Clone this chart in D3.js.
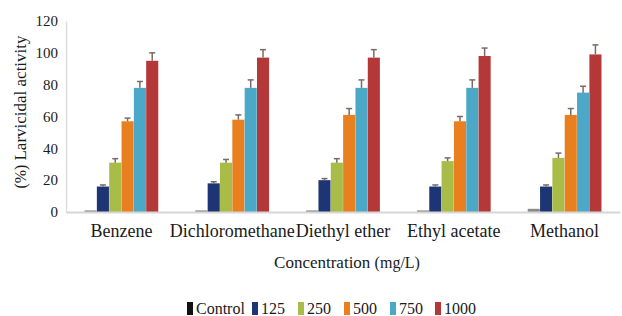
<!DOCTYPE html>
<html>
<head>
<meta charset="utf-8">
<script src="https://cdn.jsdelivr.net/npm/d3@7"></script>
<style>
  body { margin: 0; background: #fff; }
</style>
</head>
<body>
<svg id="chart" width="622" height="316"></svg>
<script>
  "use strict";
  // solvents on the x axis
  var solvents = ['Benzene', 'Dichloromethane', 'Diethyl ether', 'Ethyl acetate', 'Methanol'];
  // concentration series (mg/L)
  var doses = ['Control', '125', '250', '500', '750', '1000'];
  var doseColors = ['#8a8a8a', '#1d3574', '#a9bc47', '#e8801f', '#4ba8c6', '#b53838'];
  // mean larvicidal activity (%) for each solvent, one value per dose
  var activity = [
    [1, 16, 31, 57, 78, 95],
    [1, 18, 31, 58, 78, 97],
    [1, 20, 31, 61, 78, 97],
    [1, 16, 32, 57, 78, 98],
    [2, 16, 34, 61, 75, 99]
  ];
  // error (+/-) for each bar
  var errors = [
    [0, 1, 2.5, 2, 4, 5],
    [0, 1, 2, 3, 5, 5],
    [0, 1, 2.5, 4, 5, 5],
    [0, 1, 2, 3, 5, 5],
    [0, 1, 3, 4, 4, 6]
  ];
  var yTicks = [0, 20, 40, 60, 80, 100, 120];

  var FONT = 'Liberation Serif';
  var svg = d3.select('#chart');
  var margin = {top: 21, right: 2, bottom: 104, left: 66};
  var width = 622 - margin.left - margin.right,
      height = 316 - margin.top - margin.bottom;
  var g = svg.append('g').attr('transform', 'translate(' + margin.left + ',' + margin.top + ')');

  var x0 = d3.scaleBand().domain(solvents).range([0, width]).paddingInner(0.33).paddingOuter(0.165);
  var x1 = d3.scaleBand().domain(doses).range([0, x0.bandwidth()]).padding(0.02);
  var y = d3.scaleLinear().domain([0, 120]).range([height, 0]);

  // y axis: light line plus labels only
  var yAxis = g.append('g').call(d3.axisLeft(y).tickValues(yTicks).tickSize(0).tickPadding(8));
  yAxis.attr('font-size', 15);
  yAxis.select('.domain').attr('stroke', '#dcdcdc').attr('stroke-width', 1.5);

  // bars grouped by solvent
  var groups = g.selectAll('.group')
      .data(activity)
    .enter().append('g')
      .attr('class', 'group')
      .attr('transform', function (d, i) { return 'translate(' + x0(solvents[i]) + ',0)'; });

  groups.selectAll('rect')
      .data(function (d) { return d; })
    .enter().append('rect')
      .attr('x', function (d, i) { return x1(doses[i]); })
      .attr('y', function (d) { return y(d); })
      .attr('width', x1.bandwidth())
      .attr('height', function (d) { return height - y(d); })
      .attr('fill', function (d, i) { return doseColors[i]; });

  // error bars (upper half only, like the original)
  groups.each(function (vals, gi) {
    var sel = d3.select(this);
    vals.forEach(function (v, i) {
      var e = errors[gi][i];
      if (!e) { return; }
      var cx = x1(doses[i]) + x1.bandwidth() / 2;
      sel.append('line')
        .attr('x1', cx).attr('x2', cx)
        .attr('y1', y(v)).attr('y2', y(v + e))
        .attr('stroke', '#7a6a66').attr('stroke-width', 1.5);
      sel.append('line')
        .attr('x1', cx - 3).attr('x2', cx + 3)
        .attr('y1', y(v + e)).attr('y2', y(v + e))
        .attr('stroke', '#7a6a66').attr('stroke-width', 1.5);
    });
  });

  // x axis baseline and category labels
  var xAxis = g.append('g')
      .attr('transform', 'translate(0,' + height + ')')
      .call(d3.axisBottom(x0).tickSize(0).tickPadding(12));
  xAxis.attr('font-size', 18);
  xAxis.select('.domain').attr('stroke', '#d6d6d6').attr('stroke-width', 2);

  // axis titles
  var xTitle = svg.append('text')
      .attr('x', margin.left + width / 2 + 4)
      .attr('y', 268)
      .attr('text-anchor', 'middle')
      .attr('font-size', 17);
  xTitle.append('tspan').text('Concentration ');
  xTitle.append('tspan').attr('font-size', 16).text('(mg/L)');

  var yTitle = svg.append('text')
      .attr('transform', 'translate(26,' + (margin.top + 91) + ') rotate(-90)')
      .attr('text-anchor', 'middle')
      .attr('font-size', 17);
  yTitle.append('tspan').attr('font-size', 16).text('(%) ');
  yTitle.append('tspan').text('Larvicidal activity');

  // legend
  var legendX = [187, 252, 298, 344, 390, 435];
  var legend = svg.append('g').attr('class', 'legend').attr('font-size', 16);
  doses.forEach(function (d, i) {
    var item = legend.append('g').attr('transform', 'translate(' + legendX[i] + ',302)');
    item.append('rect')
      .attr('width', 6).attr('height', 13)
      .attr('fill', i === 0 ? '#111' : doseColors[i]);
    item.append('text')
      .attr('x', 9).attr('y', 12)
      .text(d);
  });

  // serif for every label; re-applied later in case something resets it
  function applyFont() {
    svg.selectAll('g').attr('font-family', FONT);
    svg.selectAll('text, tspan')
      .attr('font-family', FONT)
      .attr('fill', '#1a1a1a')
      .style('font-family', FONT, 'important');
  }
  applyFont();
  setTimeout(applyFont, 0);
  window.addEventListener('load', applyFont);
</script>
</body>
</html>
